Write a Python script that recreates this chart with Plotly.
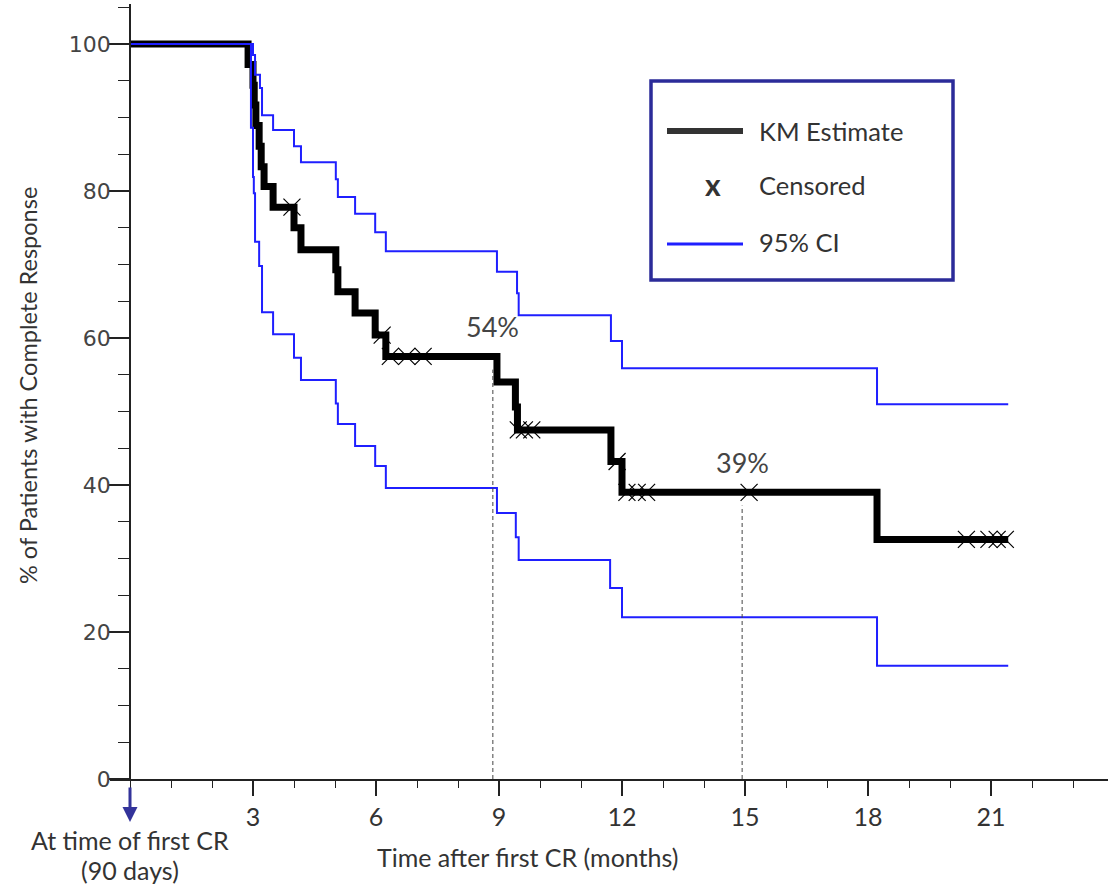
import bisect
import plotly.graph_objects as go

# Kaplan-Meier estimate: months after first CR vs % of patients still in CR
km_time = [0, 2.88, 3.0, 3.03, 3.07, 3.15, 3.2, 3.27, 3.49, 4.0, 4.17, 5.02, 5.07,
           5.49, 5.98, 6.24, 8.95, 9.40, 9.45, 11.73, 12.0, 18.22]
km_surv = [100, 97.2, 94.4, 91.7, 88.9, 86.1, 83.3, 80.6, 77.8, 75.0, 72.0, 69.3, 66.3,
           63.4, 60.4, 57.5, 54.0, 50.6, 47.5, 43.2, 39.0, 32.6]
follow_up_end = 21.42

# 95% confidence band
ci_upper_time = [0, 3.0, 3.05, 3.17, 3.22, 3.49, 4.0, 4.17, 5.02, 5.07, 5.49, 5.98, 6.24,
                 8.95, 9.44, 9.48, 11.73, 12.0, 18.22]
ci_upper = [100, 98.5, 95.8, 94.0, 90.3, 88.3, 86.1, 83.9, 81.6, 79.2, 76.9, 74.4, 71.8,
            69.0, 66.1, 63.1, 59.6, 55.9, 51.0]
ci_lower_time = [0, 2.95, 3.0, 3.02, 3.05, 3.15, 3.22, 3.49, 4.0, 4.17, 5.02, 5.07, 5.49,
                 5.98, 6.24, 8.95, 9.41, 9.48, 11.71, 12.0, 18.22]
ci_lower = [100, 88.6, 81.9, 79.7, 73.1, 69.8, 63.5, 60.5, 57.3, 54.3, 51.1, 48.3, 45.3,
            42.6, 39.6, 36.2, 32.9, 29.8, 26.0, 22.0, 15.4]

# censored observations (months)
censor_time = [3.95, 6.15, 6.35, 6.75, 7.15, 9.47, 9.62, 9.8, 11.88, 12.12, 12.37, 12.6,
               15.1, 20.4, 20.95, 21.15, 21.35]

# highlighted landmarks: time of the dashed drop line and the labelled estimate
landmark_time = [8.85, 14.93]
landmark_pct = [54, 39]

x_ticks = [3, 6, 9, 12, 15, 18, 21]
y_ticks = [0, 20, 40, 60, 80, 100]

BLUE = "#1f1fff"
INK = "#333333"
GILL = "Lato, 'Open Sans', sans-serif"


def km_at(t):
    i = bisect.bisect_right(km_time, t) - 1
    return km_surv[i]


def extend(times, values):
    return times + [follow_up_end], values + [values[-1]]


# plot area geometry (pixels) used for placing the legend box and free text
L, R, T, B = 110, 1108, 4, 779
X0, X1 = -20 / 41, (R - 130) / 41
Y1 = (B - T) / 7.35


def px(x):
    return (x - L) / (R - L)


def py(y):
    return (B - y) / (B - T)


def note(text, x, y, size, xref="paper", yref="paper", **kw):
    fig.add_annotation(xref=xref, yref=yref, x=x, y=y, text=text, showarrow=False,
                       xanchor=kw.pop("xanchor", "center"), yanchor="middle",
                       font=dict(family=GILL, size=size, color=kw.pop("color", INK)), **kw)


fig = go.Figure()

kt, ks = extend(km_time, km_surv)
fig.add_trace(go.Scatter(x=kt, y=ks, mode="lines", line=dict(color="black", width=7, shape="hv"),
                         showlegend=False, hoverinfo="skip"))

for ct, cv in (extend(ci_upper_time, ci_upper), extend(ci_lower_time, ci_lower)):
    fig.add_trace(go.Scatter(x=ct, y=cv, mode="lines", line=dict(color=BLUE, width=2, shape="hv"),
                             showlegend=False, hoverinfo="skip"))

fig.add_trace(go.Scatter(x=censor_time, y=[km_at(t) for t in censor_time], mode="markers",
                         marker=dict(symbol="x-thin", size=17, line=dict(color="black", width=1.2)),
                         showlegend=False, hoverinfo="skip"))

for t, pct in zip(landmark_time, landmark_pct):
    top = km_at(t)
    fig.add_trace(go.Scatter(x=[t, t], y=[0, top - 1.8], mode="lines",
                             line=dict(color="#444444", width=1, dash="4px,3px"),
                             showlegend=False, hoverinfo="skip"))
    note(f"{pct}%", t, top, 27, xref="x", yref="y", yshift=30, color="#444444")

# legend box
fig.add_shape(type="rect", xref="paper", yref="paper", x0=px(651), x1=px(953), y0=py(280), y1=py(81),
              line=dict(color="#2b2b99", width=3.5), fillcolor="white", layer="above")
fig.add_shape(type="line", xref="paper", yref="paper", x0=px(667), x1=px(743), y0=py(131), y1=py(131),
              line=dict(color=INK, width=6))
fig.add_shape(type="line", xref="paper", yref="paper", x0=px(667), x1=px(743), y0=py(244), y1=py(244),
              line=dict(color=BLUE, width=3))
note("<b>x</b>", px(713), py(184), 30)
for label, ypix in (("KM Estimate", 131), ("Censored", 185), ("95% CI", 242)):
    note(label, px(757), py(ypix), 25.5, xanchor="left")

# marker for the start of follow-up
fig.add_annotation(x=0, xref="x", y=py(822), yref="paper", text="", showarrow=True, ax=0, ay=-36,
                   arrowhead=2, arrowsize=1, arrowwidth=3, arrowcolor="#33339a", standoff=0)
note("At time of first CR", 0, py(840), 25, xref="x")
note("(90 days)", 0, py(870), 25, xref="x")

# axis titles
note("Time after first CR (months)", px(527), py(857), 25)
note("% of Patients with Complete Response", px(28), py(386), 23.5, textangle=-90)

fig.update_layout(
    width=1109, height=889,
    margin=dict(l=L, r=1109 - R, t=T, b=889 - B),
    paper_bgcolor="white", plot_bgcolor="white",
    xaxis=dict(range=[X0, X1], domain=[0, 1], tickvals=x_ticks, ticks="outside", ticklen=15,
               tickwidth=1.5, tickcolor="#222", showline=True, linecolor="#222", linewidth=1.5,
               showgrid=False, zeroline=False,
               tickfont=dict(family=GILL, size=25, color=INK),
               minor=dict(ticks="outside", ticklen=7, dtick=1, tick0=0, tickwidth=1.2, tickcolor="#222")),
    yaxis=dict(range=[0, Y1], tickvals=y_ticks, anchor="free", position=px(130), ticks="outside",
               ticklen=20, tickwidth=1.5, tickcolor="#222", showline=True, linecolor="#222",
               linewidth=1.5, showgrid=False, zeroline=False, ticklabelstandoff=-6,
               tickfont=dict(family="DejaVu Sans", size=22, color="#444444"),
               minor=dict(ticks="outside", ticklen=11, dtick=5, tick0=0, tickwidth=1.2, tickcolor="#222")),
)

fig.write_html("out.html")
